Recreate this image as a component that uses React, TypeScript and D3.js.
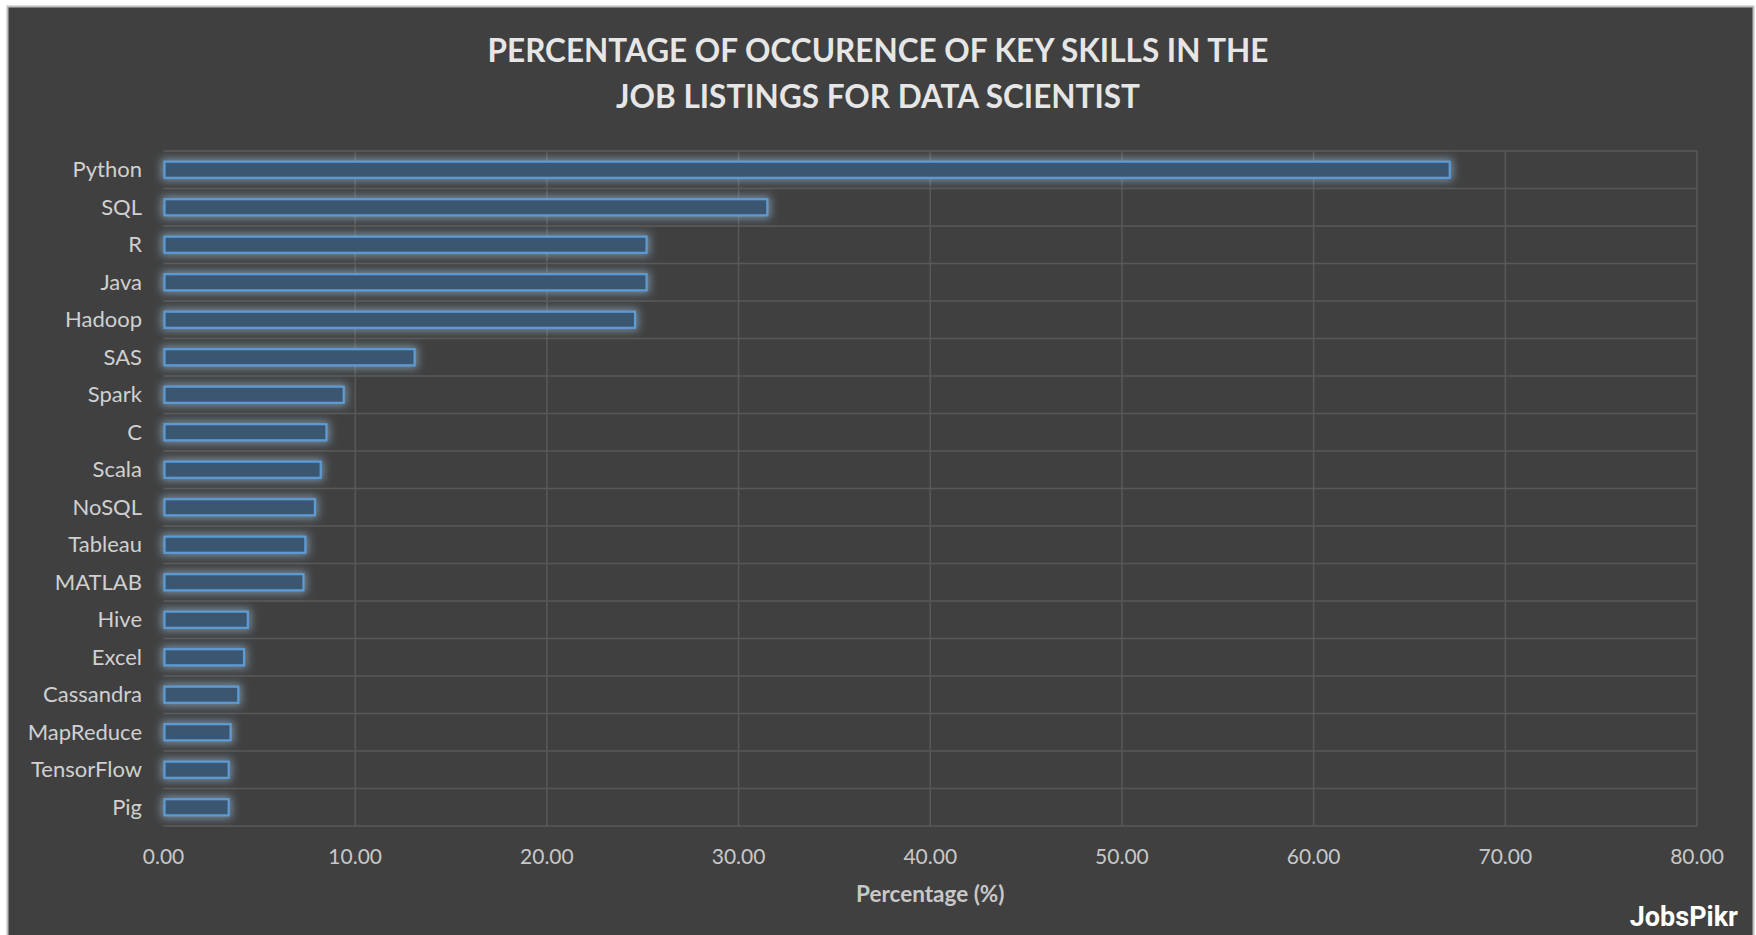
import { useEffect, useRef } from 'react';
import * as d3 from 'd3';

// skills, top to bottom
const skills = [
    'Python', 'SQL', 'R', 'Java', 'Hadoop', 'SAS', 'Spark', 'C', 'Scala',
    'NoSQL', 'Tableau', 'MATLAB', 'Hive', 'Excel', 'Cassandra', 'MapReduce',
    'TensorFlow', 'Pig'
];
const percentages = [
    67.1, 31.5, 25.2, 25.2, 24.6, 13.1, 9.4, 8.5, 8.2,
    7.9, 7.4, 7.3, 4.4, 4.2, 3.9, 3.5, 3.4, 3.4
];
const xTicks = [0, 10, 20, 30, 40, 50, 60, 70, 80];
const titleLines = ['PERCENTAGE OF OCCURENCE OF KEY SKILLS IN THE', 'JOB LISTINGS FOR DATA SCIENTIST'];

const W = 1756;
const H = 935;

export default function App() {
    const svgRef = useRef<SVGSVGElement>(null);

    useEffect(() => {
        document.body.style.margin = '0';
        if (!svgRef.current) return;

        const svg = d3.select(svgRef.current);
        svg.selectAll('*').remove();

        const margin = { top: 151, right: W - 1697, bottom: H - 826, left: 163.5 };
        const font = 'Lato, "Open Sans", sans-serif';

        // outer frame
        svg.append('rect').attr('width', W).attr('height', H).attr('fill', '#ffffff');
        svg.append('rect')
            .attr('x', 7.5).attr('y', 6.5)
            .attr('width', W - 10).attr('height', H)
            .attr('fill', '#404040')
            .attr('stroke', '#bfbfbf')
            .attr('stroke-width', 2);

        // glow filter for the bars
        const defs = svg.append('defs');
        const filter = defs.append('filter')
            .attr('id', 'glow')
            .attr('x', '-20%').attr('y', '-150%')
            .attr('width', '140%').attr('height', '400%');
        filter.append('feMorphology')
            .attr('in', 'SourceGraphic')
            .attr('operator', 'dilate')
            .attr('radius', 2)
            .attr('result', 'thick');
        filter.append('feGaussianBlur')
            .attr('in', 'thick')
            .attr('stdDeviation', 4)
            .attr('result', 'blur0');
        filter.append('feColorMatrix')
            .attr('in', 'blur0')
            .attr('type', 'matrix')
            .attr('values', '0 0 0 0 0.36  0 0 0 0 0.61  0 0 0 0 0.84  0 0 0 0.55 0')
            .attr('result', 'blur');
        const merge = filter.append('feMerge');
        merge.append('feMergeNode').attr('in', 'blur');
        merge.append('feMergeNode').attr('in', 'SourceGraphic');

        // title
        svg.append('text')
            .attr('x', W / 2)
            .attr('text-anchor', 'middle')
            .attr('font-family', font)
            .attr('font-weight', 'bold')
            .attr('font-size', 31.5)
            .attr('fill', '#e6e6e6')
            .selectAll('tspan')
            .data(titleLines)
            .enter()
            .append('tspan')
            .attr('x', W / 2)
            .attr('y', (_, i) => 62 + i * 46)
            .text(d => d);

        const x = d3.scaleLinear()
            .domain([0, 80])
            .range([margin.left, W - margin.right]);

        const y = d3.scaleBand()
            .domain(skills)
            .range([margin.top, H - margin.bottom])
            .paddingInner(0.57)
            .paddingOuter(0.285);

        const yGrid = d3.scaleBand()
            .domain(skills)
            .range([margin.top, H - margin.bottom]);

        const grid = svg.append('g')
            .attr('stroke', '#585858')
            .attr('stroke-width', 1.5);

        // vertical gridlines
        grid.selectAll('.vline')
            .data(xTicks.slice(1))
            .enter()
            .append('line')
            .attr('x1', d => x(d)).attr('x2', d => x(d))
            .attr('y1', margin.top).attr('y2', H - margin.bottom);

        // horizontal gridlines at category boundaries
        const boundaries = skills.map(s => yGrid(s)!).concat([H - margin.bottom]);
        grid.selectAll('.hline')
            .data(boundaries)
            .enter()
            .append('line')
            .attr('x1', margin.left).attr('x2', W - margin.right)
            .attr('y1', d => d).attr('y2', d => d);

        // bars
        svg.append('g')
            .selectAll('rect')
            .data(percentages)
            .enter()
            .append('rect')
            .attr('x', x(0) + 1)
            .attr('y', (_, i) => y(skills[i])!)
            .attr('width', d => x(d) - x(0) - 1)
            .attr('height', y.bandwidth())
            .attr('fill', '#3b5771')
            .attr('stroke', '#5b9bd5')
            .attr('stroke-width', 2.2)
            .attr('filter', 'url(#glow)');

        // category labels
        svg.append('g')
            .selectAll('text')
            .data(skills)
            .enter()
            .append('text')
            .attr('x', 142)
            .attr('y', d => y(d)! + y.bandwidth() / 2)
            .attr('dy', '0.35em')
            .attr('text-anchor', 'end')
            .attr('font-family', font)
            .attr('font-size', 22)
            .attr('fill', '#d0d0d0')
            .text(d => d);

        // x axis labels
        svg.append('g')
            .selectAll('text')
            .data(xTicks)
            .enter()
            .append('text')
            .attr('x', d => x(d))
            .attr('y', 864)
            .attr('text-anchor', 'middle')
            .attr('font-family', font)
            .attr('font-size', 21)
            .attr('fill', '#c8c8c8')
            .text(d => d3.format('.2f')(d));

        // x axis title
        svg.append('text')
            .attr('x', (x(0) + x(80)) / 2)
            .attr('y', 902)
            .attr('text-anchor', 'middle')
            .attr('font-family', font)
            .attr('font-weight', 'bold')
            .attr('font-size', 22.5)
            .attr('fill', '#c8c8c8')
            .text('Percentage (%)');

        // logo
        svg.append('text')
            .attr('x', 1738)
            .attr('y', 926)
            .attr('text-anchor', 'end')
            .attr('font-family', 'Roboto, sans-serif')
            .attr('font-weight', 'bold')
            .attr('font-size', 27)
            .attr('fill', '#ffffff')
            .text('JobsPikr');
    }, []);

    return <svg ref={svgRef} width={W} height={H} style={{ display: 'block' }}></svg>;
}
